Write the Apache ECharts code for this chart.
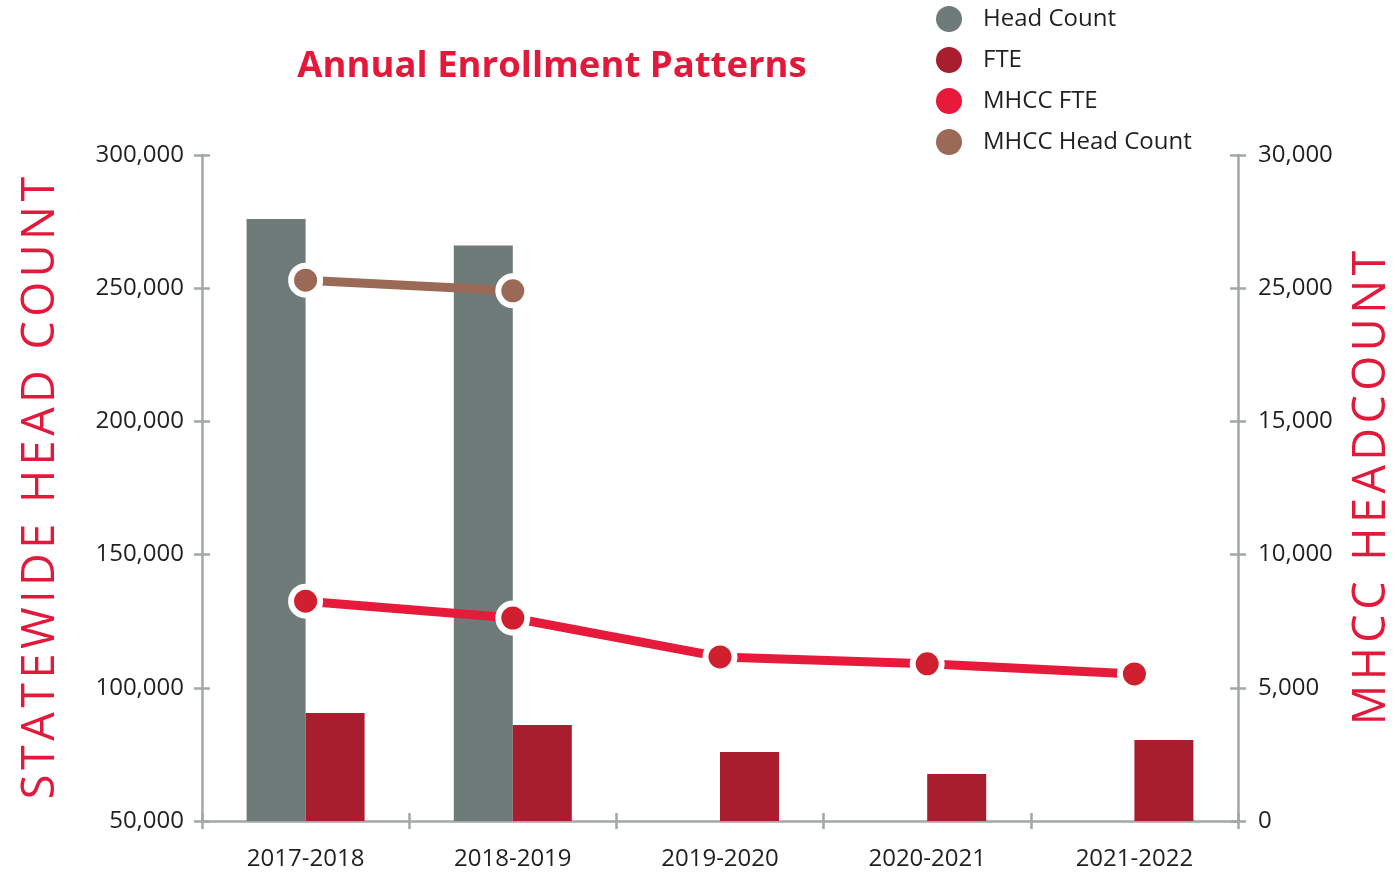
<!DOCTYPE html>
<html>
<head>
<meta charset="utf-8">
<script src="https://cdn.jsdelivr.net/npm/echarts@6/dist/echarts.min.js"></script>
<style>
html,body{margin:0;padding:0;background:#fff;}
#chart{width:1395px;height:874px;}
</style>
</head>
<body>
<div id="chart"></div>
<script>
// ---- data ----
const categories = ['2017-2018', '2018-2019', '2019-2020', '2020-2021', '2021-2022'];
const headCount = [276000, 266000, null, null, null];          // statewide head count (left axis)
const fte = [90500, 86000, 75900, 67600, 80400];               // statewide FTE (left axis)
const mhccFte = [8250, 7620, 6160, 5900, 5520];                // MHCC FTE (right axis)
const mhccHeadCount = [25300, 24900, null, null, null];        // MHCC head count (right axis, as read on its labels)
const leftTicks = [50000, 300000, 50000];                      // min, max, step
// right axis as printed in the reference: 0, 5,000, 10,000, 15,000, 25,000, 30,000 (20,000 is skipped)
const rightTickLabels = ['0', '5,000', '10,000', '15,000', '25,000', '30,000'];

// The printed right axis skips 20,000: values above 15,000 sit one step lower.
const RIGHT_STEP = 5000;
function rightAxisPos(v) {
  if (v == null) return null;
  return v > 15000 ? v - RIGHT_STEP : v;
}

const RED = '#e3193b';
const FONT = '"Open Sans", "Noto Sans", sans-serif';
const AXIS_COLOR = '#a2a7a8';

const chart = echarts.init(document.getElementById('chart'), null, {renderer: 'canvas'});

const hair = s => s.split('').join('\u200A');

const option = {
  animation: false,
  backgroundColor: '#fff',
  textStyle: {fontFamily: FONT},
  title: {
    text: 'Annual Enrollment Patterns',
    left: 547, top: 43, textAlign: 'center',
    textStyle: {color: RED, fontSize: 36.5, fontWeight: 'bold', fontFamily: FONT}
  },
  legend: {
    orient: 'vertical',
    left: 931, top: 1,
    itemWidth: 26, itemHeight: 26, itemGap: 15,
    icon: 'circle',
    itemStyle: {borderWidth: 0},
    textStyle: {fontSize: 24, color: '#231f20', fontFamily: FONT, padding: [0, 0, 0, 16]},
    data: [
      {name: 'Head Count', itemStyle: {color: '#6f7b79'}},
      {name: 'FTE', itemStyle: {color: '#a81e2f'}},
      {name: 'MHCC FTE', itemStyle: {color: '#e8193a'}},
      {name: 'MHCC Head Count', itemStyle: {color: '#9a6a56'}}
    ]
  },
  grid: {left: 202, right: 157, top: 155, bottom: 53, containLabel: false, outerBoundsMode: 'none'},
  xAxis: [{
    type: 'category',
    data: categories,
    boundaryGap: true,
    axisLine: {lineStyle: {color: AXIS_COLOR, width: 2.5}},
    axisTick: {show: true, inside: false, length: 8, lineStyle: {color: AXIS_COLOR, width: 2.5}},
    axisLabel: {fontSize: 24, color: '#231f20', margin: 26, fontFamily: FONT}
  }, {
    type: 'category',
    data: categories,
    position: 'bottom',
    boundaryGap: true,
    axisLine: {show: false},
    axisTick: {show: true, inside: true, length: 8, lineStyle: {color: AXIS_COLOR, width: 2.5}},
    axisLabel: {show: false}
  }],
  yAxis: [{
    type: 'value',
    min: leftTicks[0], max: leftTicks[1], interval: leftTicks[2],
    position: 'left',
    name: hair('STATEWIDE HEAD COUNT'),
    nameLocation: 'middle', nameGap: 138, nameRotate: 90,
    nameTextStyle: {color: RED, fontSize: 45, fontWeight: 400, fontFamily: FONT},
    splitLine: {show: false},
    axisLine: {show: true, lineStyle: {color: AXIS_COLOR, width: 2.5}},
    axisTick: {show: true, inside: false, length: 8, lineStyle: {color: AXIS_COLOR, width: 2.5}},
    axisLabel: {fontSize: 24, color: '#231f20', margin: 18, fontFamily: FONT,
      formatter: v => v.toLocaleString('en-US')}
  }, {
    type: 'value',
    min: 0, max: 25000, interval: RIGHT_STEP,
    position: 'right',
    name: hair('MHCC HEADCOUNT'),
    nameLocation: 'middle', nameGap: 112, nameRotate: 90,
    nameTextStyle: {color: RED, fontSize: 45, fontWeight: 400, fontFamily: FONT},
    splitLine: {show: false},
    axisLine: {show: true, lineStyle: {color: AXIS_COLOR, width: 2.5}},
    axisTick: {show: true, inside: false, length: 8, lineStyle: {color: AXIS_COLOR, width: 2.5}},
    axisLabel: {fontSize: 24, color: '#231f20', margin: 20, fontFamily: FONT,
      formatter: v => rightTickLabels[Math.round(v / RIGHT_STEP)]}
  }, {
    type: 'value',
    min: leftTicks[0], max: leftTicks[1], interval: leftTicks[2],
    position: 'left',
    splitLine: {show: false},
    axisLine: {show: false},
    axisTick: {show: true, inside: true, length: 8, lineStyle: {color: AXIS_COLOR, width: 2.5}},
    axisLabel: {show: false}
  }, {
    type: 'value',
    min: 0, max: 25000, interval: RIGHT_STEP,
    position: 'right',
    splitLine: {show: false},
    axisLine: {show: false},
    axisTick: {show: true, inside: true, length: 8, lineStyle: {color: AXIS_COLOR, width: 2.5}},
    axisLabel: {show: false}
  }],
  series: [{
    name: 'Head Count',
    type: 'bar',
    yAxisIndex: 0,
    data: headCount,
    barWidth: 59, barGap: '0%',
    itemStyle: {color: '#6f7b79'}
  }, {
    name: 'FTE',
    type: 'bar',
    yAxisIndex: 0,
    data: fte,
    barWidth: 59, barGap: '0%',
    itemStyle: {color: '#a81e2f'}
  }, {
    name: 'MHCC FTE',
    type: 'line',
    yAxisIndex: 1,
    data: mhccFte.map(rightAxisPos),
    symbol: 'circle', symbolSize: 29,
    lineStyle: {color: '#e61b3b', width: 9},
    itemStyle: {color: '#d0202f', borderColor: '#fff', borderWidth: 6},
    z: 5
  }, {
    name: 'MHCC Head Count',
    type: 'line',
    yAxisIndex: 1,
    data: mhccHeadCount.map(rightAxisPos),
    symbol: 'circle', symbolSize: 29,
    lineStyle: {color: '#9a6a56', width: 9},
    itemStyle: {color: '#9a6a56', borderColor: '#fff', borderWidth: 6},
    z: 5
  }]
};
chart.setOption(option);
</script>
</body>
</html>
